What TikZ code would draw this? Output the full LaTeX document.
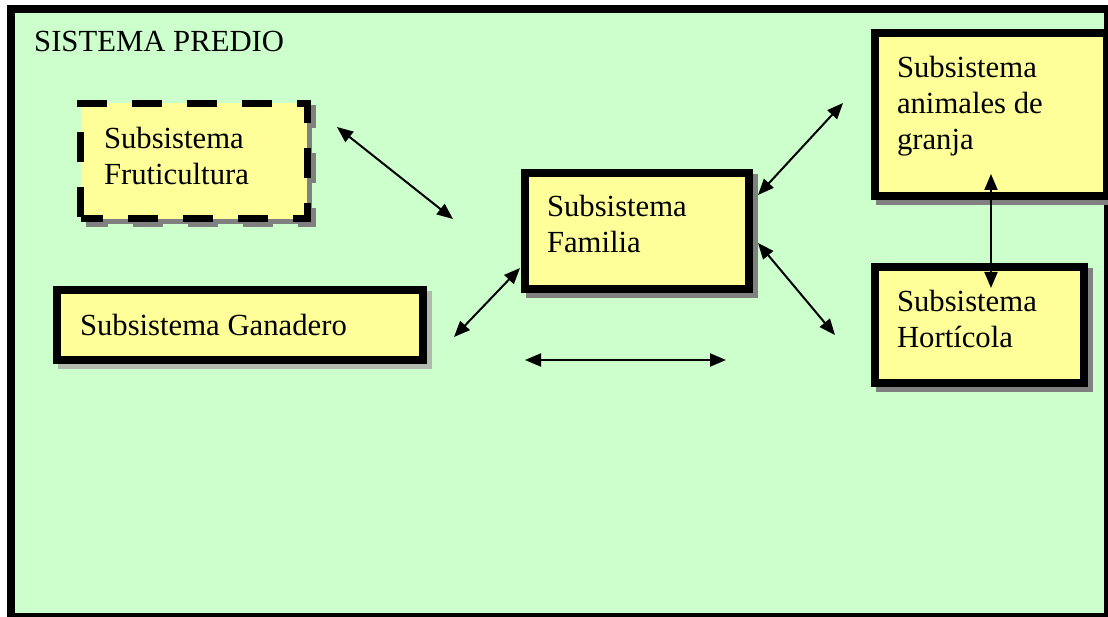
\documentclass[tikz,border=0pt]{standalone}
\usepackage{fontspec}
\setmainfont{Liberation Serif}
\usetikzlibrary{shadows,arrows.meta}
\definecolor{fondo}{HTML}{CCFFCC}
\definecolor{amarillo}{HTML}{FFFF99}
\definecolor{sombra}{HTML}{808080}
\definecolor{sombraclara}{HTML}{B0BBAD}
\begin{document}
\begin{tikzpicture}[x=1pt,y=-1pt]
\tikzstyle{every node}+=[font=\fontsize{30.7pt}{36pt}\selectfont]
\tikzstyle{caja}=[draw=black, line width=8pt, fill=amarillo, align=flush left, inner ysep=0pt,
  drop shadow={shadow xshift=5pt, shadow yshift=-5pt, opacity=1, fill=sombra, draw=sombra}]
\tikzstyle{subir}=[execute at end node={\endgraf\vspace*{#1}}]
\tikzstyle{flecha}=[line width=2pt, {Triangle[length=16pt,width=13pt]}-{Triangle[length=16pt,width=13pt]}]
\useasboundingbox (0,0) rectangle (1108,617);
\draw [black, line width=8pt, fill=fondo] (11,9.5) rectangle (1108,617);
\node [anchor=base west, inner sep=0pt] (titulo) at (34,52) {SISTEMA PREDIO};
% subsistemas
\node [caja, subir=11pt, line width=7pt, dash pattern=on 30pt off 25pt, dash phase=7.5pt, inner xsep=23.5pt,
  text width=179.5pt, minimum height=115.5pt] (fru) at (193.75,161.25) {Subsistema\\Fruticultura};
\node [caja, inner xsep=23pt, text width=320pt, minimum height=70pt,
  drop shadow={shadow xshift=5pt, shadow yshift=-5pt, opacity=1, fill=sombraclara, draw=sombraclara}]
  (gan) at (240,325) {Subsistema Ganadero};
\node [caja, subir=14pt, inner xsep=22pt, text width=180pt, minimum height=116pt] (fam) at (637,231) {Subsistema\\Familia};
\node [caja, subir=18pt, inner xsep=22pt, text width=188pt, minimum height=162.5pt] (ani) at (991,114.75) {Subsistema\\animales de\\granja};
\node [caja, subir=12pt, inner xsep=22pt, text width=165pt, minimum height=116pt] (hor) at (979.5,325) {Subsistema\\Hort\'icola};
% extremos de flechas
\coordinate (f1) at (337,127); \coordinate (f2) at (453,219);
\coordinate (g1) at (454,337); \coordinate (g2) at (520,268);
\coordinate (a1) at (758,195); \coordinate (a2) at (843,103);
\coordinate (h1) at (758,243); \coordinate (h2) at (835,335);
\coordinate (v1) at (991,174); \coordinate (v2) at (991,288);
\coordinate (s1) at (525,360); \coordinate (s2) at (726,360);
\draw [flecha] (f1) -- (f2);
\draw [flecha] (g1) -- (g2);
\draw [flecha] (a1) -- (a2);
\draw [flecha] (h1) -- (h2);
\draw [flecha] (v1) -- (v2);
\draw [flecha] (s1) -- (s2);
\end{tikzpicture}
\end{document}
